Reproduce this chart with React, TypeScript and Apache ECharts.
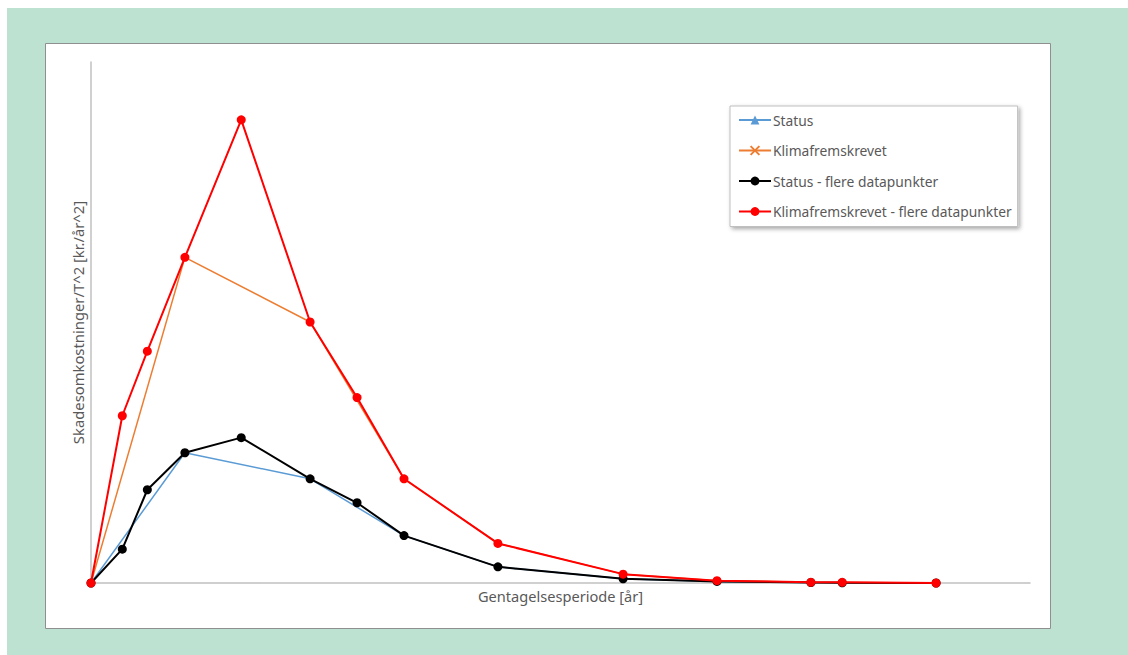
import React, { useEffect, useRef } from "react";
import * as echarts from "echarts";

// Return period positions (x) and costs/T^2 (y)
const xDense = [0, 1, 1.8, 3, 4.8, 7, 8.5, 10, 13, 17, 20, 23, 24, 27];
const statusDense = [0, 6.5, 17.9, 25.0, 27.9, 20.0, 15.4, 9.1, 3.1, 0.8, 0.3, 0.1, 0.05, 0];
const klimaDense = [0, 32.1, 44.5, 62.5, 88.9, 50.1, 35.6, 20.0, 7.6, 1.7, 0.45, 0.13, 0.13, 0];

const xCoarse = [0, 3, 7, 10, 13, 17, 20, 23, 27];
const statusCoarse = [0, 25.0, 20.0, 9.1, 3.1, 0.8, 0.3, 0.1, 0];
const klimaCoarse = [0, 62.5, 50.1, 20.0, 7.6, 1.7, 0.45, 0.13, 0];

const seriesNames = [
  "Status",
  "Klimafremskrevet",
  "Status - flere datapunkter",
  "Klimafremskrevet - flere datapunkter",
];
const xTitle = "Gentagelsesperiode [år]";
const yTitle = "Skadesomkostninger/T^2 [kr./år^2]";

const zip = (xs: number[], ys: number[]) => xs.map((x, i) => [x, ys[i]]);

export default function App() {
  const ref = useRef<HTMLDivElement>(null);
  useEffect(() => {
    if (!ref.current) return;
    const chart = echarts.init(ref.current, undefined, { renderer: "svg" });
    const font = "'Noto Sans', sans-serif";
    chart.setOption({
      animation: false,
      backgroundColor: "#bee2d1",
      textStyle: { fontFamily: font },
      graphic: [
        {
          type: "rect",
          z: -10,
          shape: { x: 38.5, y: 35.5, width: 1005, height: 585 },
          style: { fill: "#ffffff", stroke: "#8f8f8f", lineWidth: 1 },
        },
      ],
      grid: { left: 84, top: 54, width: 939, height: 521 },
      legend: {
        orient: "vertical",
        left: 723,
        top: 98,
        data: seriesNames,
        backgroundColor: "#ffffff",
        borderColor: "#bfbfbf",
        borderWidth: 1,
        padding: [7, 6, 8, 8],
        itemGap: 16.5,
        itemWidth: 32,
        itemHeight: 11,
        shadowBlur: 4,
        shadowOffsetX: 2,
        shadowOffsetY: 2,
        shadowColor: "rgba(0,0,0,0.35)",
        textStyle: { color: "#595959", fontSize: 13.8, fontFamily: font, padding: [0, 0, 0, -3] },
      },
      xAxis: {
        type: "value",
        min: 0,
        max: 30,
        name: xTitle,
        nameLocation: "middle",
        nameGap: 5,
        nameTextStyle: { color: "#595959", fontSize: 14.6, fontFamily: font, verticalAlign: "top" },
        axisLine: { show: true, lineStyle: { color: "#c0c0c0", width: 1.5 } },
        axisTick: { show: false },
        axisLabel: { show: false },
        splitLine: { show: false },
      },
      yAxis: {
        type: "value",
        min: 0,
        max: 100,
        name: yTitle,
        nameLocation: "middle",
        nameGap: 6,
        nameTextStyle: { color: "#595959", fontSize: 14.8, fontFamily: font },
        axisLine: { show: true, lineStyle: { color: "#c0c0c0", width: 1.5 } },
        axisTick: { show: false },
        axisLabel: { show: false },
        splitLine: { show: false },
      },
      series: [
        {
          name: seriesNames[0],
          type: "line",
          data: zip(xCoarse, statusCoarse),
          symbol: "triangle",
          symbolSize: 8,
          showSymbol: false,
          lineStyle: { color: "#5b9bd5", width: 1.5 },
          itemStyle: { color: "#5b9bd5" },
          z: 2,
        },
        {
          name: seriesNames[1],
          type: "line",
          data: zip(xCoarse, klimaCoarse),
          symbol: "path://M0,0L10,10M10,0L0,10",
          symbolSize: 6,
          showSymbol: false,
          lineStyle: { color: "#ed7d31", width: 1.5 },
          itemStyle: { color: "#ed7d31", borderColor: "#ed7d31", borderWidth: 1 },
          z: 3,
        },
        {
          name: seriesNames[2],
          type: "line",
          data: zip(xDense, statusDense),
          symbol: "circle",
          symbolSize: 9,
          lineStyle: { color: "#000000", width: 2 },
          itemStyle: { color: "#000000" },
          z: 4,
        },
        {
          name: seriesNames[3],
          type: "line",
          data: zip(xDense, klimaDense),
          symbol: "circle",
          symbolSize: 9,
          lineStyle: { color: "#ff0000", width: 2 },
          itemStyle: { color: "#ff0000" },
          z: 5,
        },
      ],
    });
    return () => chart.dispose();
  }, []);
  return (
    <div
      ref={ref}
      style={{ position: "fixed", left: 7, top: 8, width: 1121, height: 647 }}
    />
  );
}
